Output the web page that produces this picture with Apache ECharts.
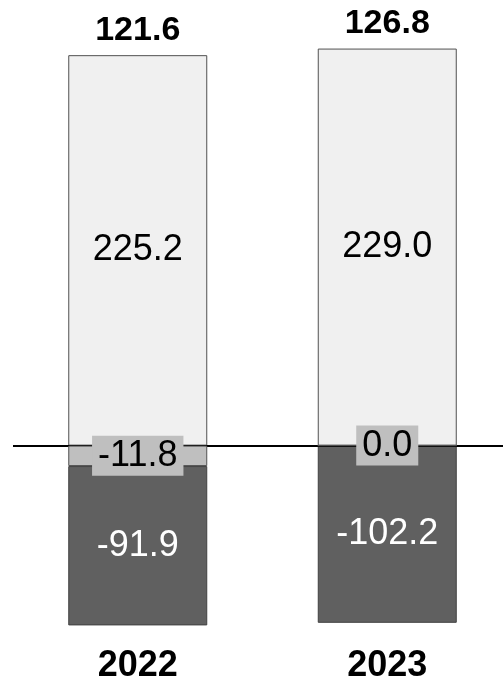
<!DOCTYPE html>
<html>
<head>
<meta charset="utf-8">
<script src="https://cdn.jsdelivr.net/npm/echarts@6/dist/echarts.min.js"></script>
<style>
  html, body { margin: 0; padding: 0; background: #ffffff; }
  #chart { width: 503px; height: 678px; }
</style>
</head>
<body>
<div id="chart"></div>
<script>
// Year categories and the three stacked components per year
const categories = ['2022', '2023'];
const baseValues = [225.2, 229.0];
const adjustValues = [-11.8, 0.0];
const lossValues = [-91.9, -102.2];
const totalLabels = ['121.6', '126.8'];

const FONT = '"Liberation Sans", Arial, sans-serif';
const fmt = p => p.value.toFixed(1);

const chart = echarts.init(document.getElementById('chart'));

chart.setOption({
  animation: false,
  backgroundColor: '#ffffff',
  textStyle: { fontFamily: FONT },
  grid: { left: 13, right: -9, top: 29.5, bottom: 38.2, outerBoundsMode: 'none' },
  xAxis: {
    type: 'category',
    data: categories,
    axisLine: { show: false },
    axisTick: { show: false },
    axisLabel: {
      margin: 8,
      fontSize: 36,
      fontWeight: 'bold',
      color: '#000000',
      fontFamily: FONT
    }
  },
  yAxis: {
    type: 'value',
    min: -112,
    max: 240,
    show: false,
    splitLine: { show: false }
  },
  series: [
    {
      name: 'base',
      type: 'bar',
      stack: 'total',
      barWidth: 139,
      data: baseValues,
      itemStyle: { color: '#f0f0f0', borderColor: '#505050', borderWidth: 1 },
      label: {
        show: true,
        position: 'inside',
        formatter: fmt,
        fontSize: 36,
        color: '#000000',
        fontFamily: FONT
      },
      markLine: {
        silent: true,
        symbol: 'none',
        label: { show: false },
        lineStyle: { color: '#000000', width: 2, type: 'solid' },
        data: [{ yAxis: 0 }]
      },
      z: 2
    },
    {
      // only negative amounts pile up, so a zero stays on the baseline
      name: 'adjust',
      type: 'bar',
      stack: 'total',
      stackStrategy: 'negative',
      barWidth: 139,
      data: adjustValues,
      itemStyle: { color: '#bfbfbf', borderColor: '#505050', borderWidth: 1 },
      label: {
        show: true,
        position: 'inside',
        formatter: fmt,
        fontSize: 36,
        color: '#000000',
        backgroundColor: '#bfbfbf',
        padding: [2, 6, 2, 6],
        fontFamily: FONT
      },
      z: 5
    },
    {
      name: 'loss',
      type: 'bar',
      stack: 'total',
      barWidth: 139,
      data: lossValues,
      itemStyle: { color: '#606060', borderColor: '#404040', borderWidth: 1 },
      label: {
        show: true,
        position: 'inside',
        formatter: fmt,
        fontSize: 36,
        color: '#ffffff',
        fontFamily: FONT
      },
      z: 2
    },
    {
      // Invisible overlay at the top of the positive bar, carrying the net total
      name: 'total',
      type: 'bar',
      stack: 'labels',
      barWidth: 139,
      barGap: '-100%',
      data: baseValues,
      itemStyle: { color: 'rgba(0,0,0,0)' },
      label: {
        show: true,
        position: 'top',
        distance: 8,
        formatter: p => totalLabels[p.dataIndex],
        fontSize: 34,
        fontWeight: 'bold',
        color: '#000000',
        fontFamily: FONT
      },
      z: 1
    }
  ]
});
</script>
</body>
</html>
